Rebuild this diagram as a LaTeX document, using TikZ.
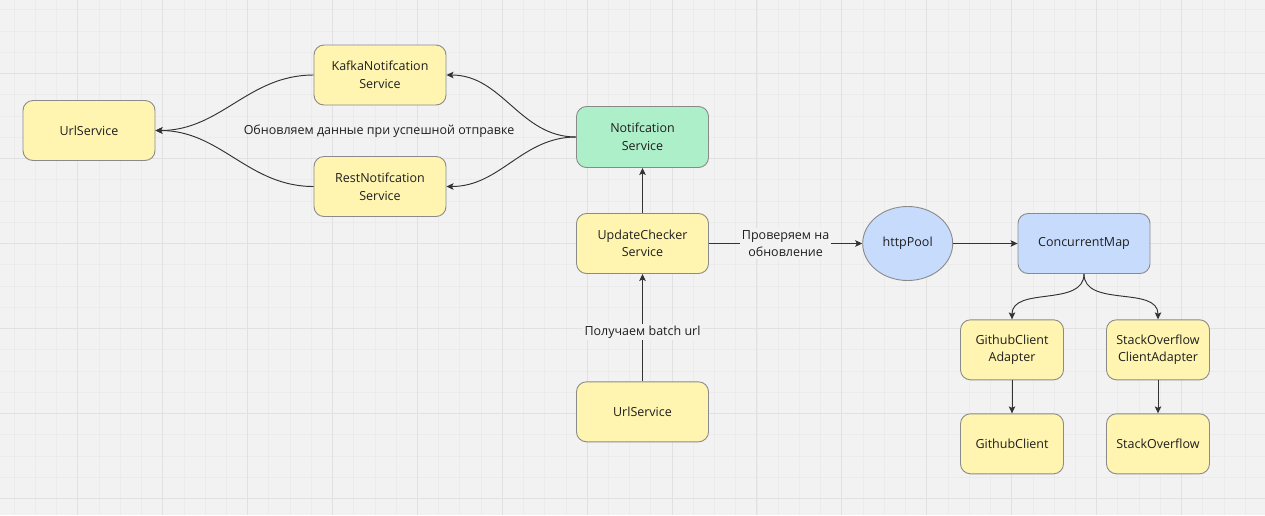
\documentclass[tikz,border=0pt]{standalone}
\usepackage{fontspec}
\setmainfont{Open Sans}
\usetikzlibrary{arrows.meta,shapes.geometric}
\definecolor{bg}{HTML}{F2F2F2}
\definecolor{gmaj}{HTML}{E1E1E1}
\definecolor{gmin}{HTML}{EBEBEB}
\definecolor{yel}{HTML}{FFF5B1}
\definecolor{grn}{HTML}{ADEFC8}
\definecolor{blu}{HTML}{C7DCFD}
\definecolor{brd}{HTML}{8A8A8A}
\definecolor{ln}{HTML}{333333}
\definecolor{txt}{HTML}{1E1E1E}
\begin{document}
\begin{tikzpicture}[x=1pt,y=-1pt,
  font=\fontsize{12.5}{17.6}\selectfont,
  box/.style={draw=brd, line width=0.9pt, fill=yel, rounded corners=10pt,
    minimum width=132pt, minimum height=60pt, align=center, inner sep=2pt, text=txt},
  sbox/.style={box, minimum width=103pt},
  ell/.style={ellipse, draw=brd, line width=0.9pt, fill=blu, minimum width=90pt,
    minimum height=74pt, inner sep=1pt, text=txt},
  arr/.style={draw=ln, line width=0.95pt, -{Stealth[length=7pt,width=6.5pt,inset=1.5pt]}},
  lbl/.style={fill=bg, inner sep=2pt, text=txt, align=center},
  plain/.style={text=txt, inner sep=0pt}]
\fill[bg] (0,0) rectangle (1265,515);
\useasboundingbox (0,0) rectangle (1265,515);
\begin{scope}
\clip (0,0) rectangle (1265,515);
\foreach \i in {0,...,59} {\draw[gmin, line width=0.6pt] ({14+21.225*\i},0) -- ({14+21.225*\i},515);}
\foreach \i in {0,...,24} {\draw[gmin, line width=0.6pt] (0,{9.6+21.25*\i}) -- (1265,{9.6+21.25*\i});}
\foreach \i in {-1,...,14} {\draw[gmaj, line width=0.9pt] ({77.7+84.9*\i},0) -- ({77.7+84.9*\i},515);}
\foreach \i in {-1,...,6} {\draw[gmaj, line width=0.9pt] (0,{73.3+85*\i}) -- (1265,{73.3+85*\i});}
\end{scope}

\node[box] (url1) at (89,130.5) {UrlService};
\node[box] (kafka) at (380,75) {KafkaNotifcation\\Service};
\node[box] (rest) at (380,186.5) {RestNotifcation\\Service};
\node[box, fill=grn, minimum height=61pt] (notif) at (642.5,137) {Notifcation\\Service};
\node[box] (upd) at (642.5,243.5) {UpdateChecker\\Service};
\node[box] (url2) at (642.5,411.8) {UrlService};
\node[ell] (pool) at (907.7,243.5) {httpPool};
\node[box, fill=blu] (cmap) at (1084,243.5) {ConcurrentMap};
\node[sbox] (gha) at (1012,349.8) {GithubClient\\Adapter};
\node[sbox] (soa) at (1158,349.8) {StackOverflow\\ClientAdapter};
\node[sbox] (ghc) at (1012,443.8) {GithubClient};
\node[sbox] (so) at (1158,443.8) {StackOverflow};

\node[plain] (upd-note) at (379,131) {Обновляем данные при успешной отправке};

\draw[arr] (notif.west) to[out=180,in=0] (kafka.east);
\draw[arr] (notif.west) to[out=180,in=0] (rest.east);
\draw[arr] (kafka.west) to[out=180,in=0] (url1.east);
\draw[arr] (rest.west) to[out=180,in=0] (url1.east);
\draw[arr] (upd) -- (notif);
\draw[arr] (url2) -- node[lbl, pos=0.46] {Получаем batch url} (upd);
\draw[arr] (upd) -- node[lbl] {Проверяем на\\обновление} (pool);
\draw[arr] (pool) -- (cmap);
\draw[arr] (cmap.south) to[out=-90,in=90] (gha.north);
\draw[arr] (cmap.south) to[out=-90,in=90] (soa.north);
\draw[arr] (gha) -- (ghc);
\draw[arr] (soa) -- (so);
\end{tikzpicture}
\end{document}
